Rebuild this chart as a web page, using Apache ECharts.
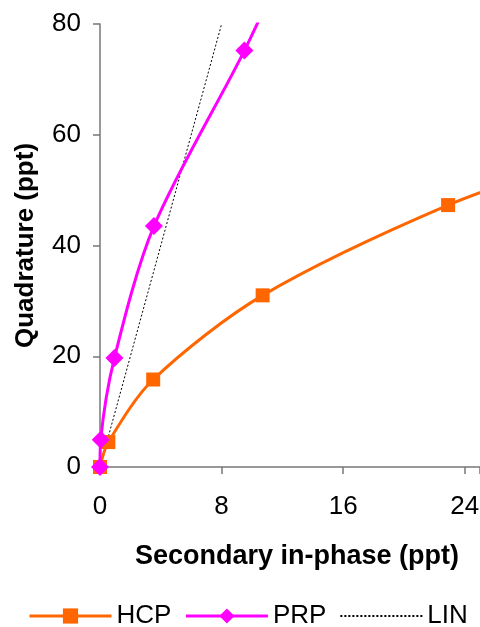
<!DOCTYPE html>
<html>
<head>
<meta charset="utf-8">
<script src="https://cdn.jsdelivr.net/npm/echarts@6/dist/echarts.min.js"></script>
<style>
    html, body { margin: 0; padding: 0; background: #fff; }
    #chart { width: 480px; height: 627px; }
</style>
</head>
<body>
<div id="chart"></div>
<script>
    // 读图估算的数据
    var hcpX = [0, 0.55, 3.5, 10.7, 22.9, 32];
    var hcpY = [0, 4.5, 15.8, 31, 47.3, 56];
    var prpX = [0, 0.05, 0.95, 3.55, 9.5, 12];
    var prpY = [0, 4.9, 19.7, 43.5, 75.2, 90];
    var linX = [0, 8];
    var linY = [0, 80];
    var xTicks = [0, 8, 16, 24];
    var yTicks = [0, 20, 40, 60, 80];

    function pairs(xs, ys) {
        return xs.map(function (x, i) { return [x, ys[i]]; });
    }

    var font = 'Liberation Sans, Arial, sans-serif';
    var chart = echarts.init(document.getElementById('chart'));
    chart.setOption({
        animation: false,
        textStyle: { fontFamily: font },
        grid: {
            left: 100,
            top: 24,
            right: 0,
            bottom: 160,
            containLabel: false,
            outerBoundsMode: 'none'
        },
        legend: {
            top: 603,
            left: 28,
            padding: 0,
            itemWidth: 82,
            itemHeight: 19,
            itemGap: 13,
            textStyle: { fontSize: 26, color: '#000', fontFamily: font },
            data: [
                { name: 'HCP', lineStyle: { width: 3 } },
                { name: 'PRP', lineStyle: { width: 3 } },
                { name: 'LIN', itemStyle: { opacity: 0 } }
            ]
        },
        xAxis: {
            type: 'value',
            min: 0,
            max: 25,
            interval: 8,
            name: 'Secondary in-phase (ppt)',
            nameLocation: 'middle',
            nameGap: 76,
            nameTextStyle: { fontSize: 27, fontWeight: 'bold', color: '#000', padding: [0, 0, 0, 14] },
            axisLine: { show: true, lineStyle: { color: '#777', width: 1.5 } },
            axisTick: { show: true, length: 7, lineStyle: { color: '#777', width: 1.5 } },
            axisLabel: {
                fontSize: 26,
                color: '#000',
                margin: 27,
                formatter: function (v) { return xTicks.indexOf(v) >= 0 ? v : ''; }
            },
            splitLine: { show: false }
        },
        yAxis: {
            type: 'value',
            min: 0,
            max: 80,
            interval: 20,
            name: 'Quadrature (ppt)',
            nameLocation: 'middle',
            nameGap: 61,
            nameTextStyle: { fontSize: 26, fontWeight: 'bold', color: '#000' },
            axisLine: { show: true, lineStyle: { color: '#777', width: 1.5 } },
            axisTick: { show: true, length: 7, lineStyle: { color: '#777', width: 1.5 } },
            axisLabel: {
                fontSize: 26,
                color: '#000',
                margin: 19,
                formatter: function (v) { return yTicks.indexOf(v) >= 0 ? v : ''; }
            },
            splitLine: { show: false }
        },
        series: [{
            name: 'HCP',
            type: 'line',
            smooth: 0.3,
            clip: true,
            symbol: 'rect',
            symbolSize: 14,
            lineStyle: { color: '#ff6600', width: 3 },
            itemStyle: { color: '#ff6600' },
            data: pairs(hcpX, hcpY),
            z: 2
        }, {
            name: 'PRP',
            type: 'line',
            smooth: 0.3,
            clip: true,
            symbol: 'diamond',
            symbolSize: 18,
            lineStyle: { color: '#ff00ff', width: 3 },
            itemStyle: { color: '#ff00ff' },
            data: pairs(prpX, prpY),
            z: 3
        }, {
            name: 'LIN',
            type: 'line',
            symbol: 'none',
            lineStyle: { color: '#000', width: 1, type: [2, 2] },
            itemStyle: { color: '#000' },
            data: pairs(linX, linY),
            z: 1
        }]
    });
</script>
</body>
</html>
